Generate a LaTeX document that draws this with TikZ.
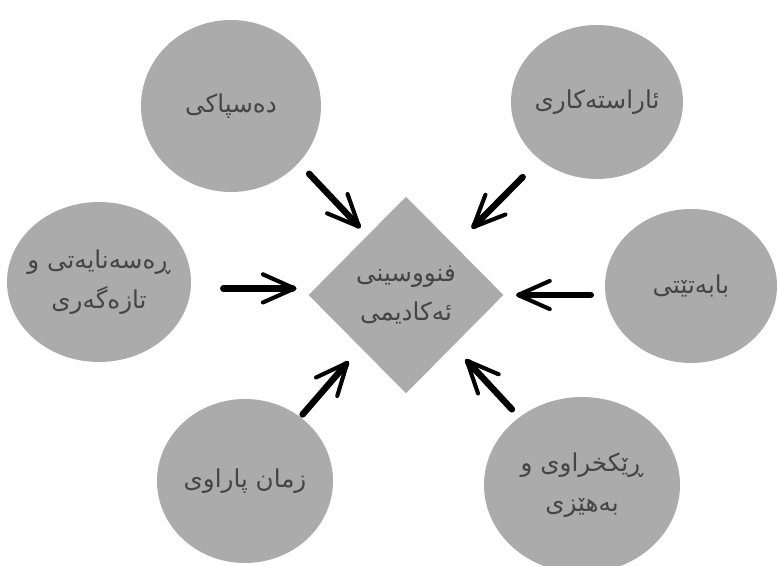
\documentclass[tikz,border=0pt]{standalone}
\usepackage{fontspec}
\usetikzlibrary{shapes.geometric,arrows.meta}
\newfontfamily\kurdfont[Script=Arabic]{DejaVu Sans}
\TeXXeTstate=1
\definecolor{blobgray}{HTML}{ABABAB}
\definecolor{inkgray}{HTML}{454545}

\begin{document}
\begin{tikzpicture}[x=0.03cm, y=-0.03cm, line cap=round, line join=round,
	words/.style={text=inkgray, align=center, inner sep=0pt,
		font=\kurdfont\fontsize{21}{34}\selectfont},
	blob/.style={ellipse, fill=blobgray, inner sep=0pt},
	core/.style={diamond, fill=blobgray, inner sep=0pt, minimum width=5.85cm,
		minimum height=5.9cm, words},
	arr/.style={line width=5.5pt,
		-{Straight Barb[length=27pt,width=24pt,line width=3.5pt,round]}}]
	% Page frame (the lower right blob runs off the edge)
	\clip (0,0) rectangle (778,566);
	
	% Centre
	\node[core] (acad) at (406,295) {\beginR فنووسینی\endR\\\beginR ئەکادیمی\endR};
	
	% Six blobs round the centre
	\node[blob, minimum width=5.4cm, minimum height=5.16cm,
		label={[words]center:{\beginR دەسپاکی\endR}}] (tl) at (231,106) {};
	\node[blob, minimum width=5.16cm, minimum height=4.62cm,
		label={[words]center:{\beginR ئاراستەکاری\endR}}] (tr) at (597,102) {};
	\node[blob, minimum width=5.52cm, minimum height=4.8cm,
		label={[words]center:{\beginR ڕەسەنایەتی و\endR\\\beginR تازەگەری\endR}}] (lf) at (99,282) {};
	\node[blob, minimum width=5.16cm, minimum height=4.62cm,
		label={[words]center:{\beginR بابەتێتی\endR}}] (rt) at (691,286) {};
	\node[blob, minimum width=5.28cm, minimum height=4.92cm,
		label={[words]center:{\beginR زمان پاراوی\endR}}] (bl) at (245,481) {};
	\node[blob, minimum width=5.88cm, minimum height=5.28cm,
		label={[words]center:{\beginR ڕێکخراوی و\endR\\\beginR بەهێزی\endR}}] (br) at (582,485) {};
	
	% Arrows into the centre
	\draw[arr, shorten <=0.45cm, shorten >=0.3cm] (tl.-40) -- (acad.123);
	\draw[arr, shorten <=0.73cm, shorten >=0.72cm] (tr) -- (acad);
	\draw[arr, shorten <=0.97cm, shorten >=0.35cm] (lf.-4) -- (lf.-4 -| acad.west);
	\draw[arr, shorten <=0.42cm, shorten >=0.37cm] (rt.west |- acad.east) -- (acad.east);
	\draw[arr, shorten <=0.1cm, shorten >=0.54cm] (bl) -- (acad);
	\draw[arr, shorten <=0.32cm, shorten >=0.54cm] (br) -- (acad);
\end{tikzpicture}
\end{document}
